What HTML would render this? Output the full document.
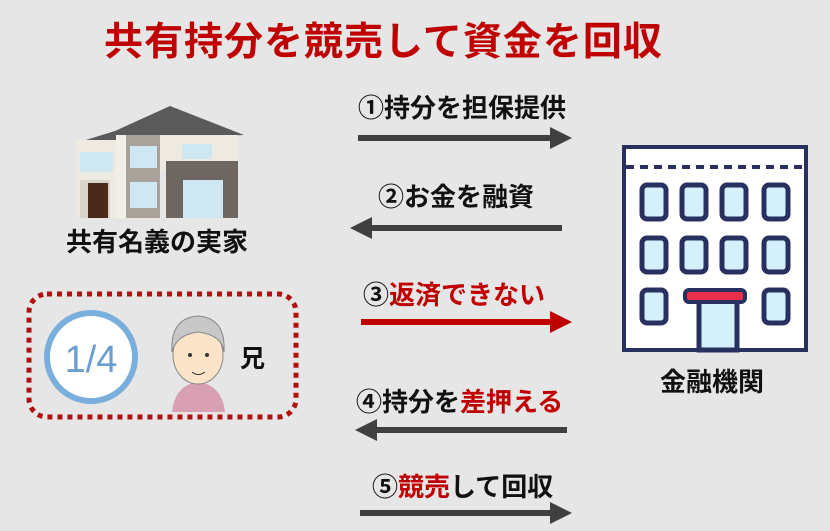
<!DOCTYPE html><html><head><meta charset="utf-8"><style>
body{margin:0;width:830px;height:531px;background:#e6e6e6;overflow:hidden;position:relative;font-family:"Liberation Sans","Noto Sans CJK JP",sans-serif;}
.t{position:absolute;font-weight:bold;white-space:nowrap;color:#111;line-height:1}
.r{color:#c00000}
</style></head><body>
<div class="t r" style="left:104px;top:23px;font-size:39px;letter-spacing:1px">共有持分を競売して資金を回収</div>
<div class="t" style="left:358px;top:95px;font-size:26px">①持分を担保提供</div>
<div class="t" style="left:378px;top:184px;font-size:26px">②お金を融資</div>
<div class="t" style="left:363px;top:282px;font-size:26px">③<span class="r">返済できない</span></div>
<div class="t" style="left:356px;top:389px;font-size:26px">④持分を<span class="r">差押える</span></div>
<div class="t" style="left:372px;top:474px;font-size:26px">⑤<span class="r">競売</span>して回収</div>
<div class="t" style="left:66px;top:229px;font-size:26px">共有名義の実家</div>
<div class="t" style="left:660px;top:369px;font-size:26px">金融機関</div>
<div class="t" style="left:240px;top:347px;font-size:25px">兄</div>
<svg width="830" height="531" style="position:absolute;left:0;top:0">
<g fill="#404040">
<rect x="358" y="135" width="195" height="6"/><path d="M550,127L572,138L550,149z"/>
<rect x="370" y="225" width="192" height="6"/><path d="M372,217L350,228L372,239z"/>
<rect x="375" y="427" width="192" height="6"/><path d="M377,419L355,430L377,441z"/>
<rect x="360" y="510" width="192" height="6"/><path d="M550,502L572,513L550,524z"/>
</g>
<g fill="#c00000"><rect x="361" y="319" width="192" height="6"/><path d="M550,311L572,322L550,333z"/></g>
<path d="M76,143L115,131L170,106L244,135L76,143z" fill="#5a5a5a"/>
<rect x="76" y="140" width="42" height="78" fill="#eeeae2"/>
<rect x="80" y="152" width="33" height="20" fill="#cfe6f3"/>
<rect x="80" y="180" width="30" height="38" fill="#d8d4cc"/>
<rect x="88" y="183" width="20" height="35" fill="#4a2a1a"/>
<rect x="116" y="135" width="10" height="83" fill="#f2efe8"/>
<rect x="126" y="135" width="34" height="83" fill="#a8a29a"/>
<rect x="130" y="146" width="27" height="22" fill="#cfe6f3"/>
<rect x="130" y="182" width="27" height="26" fill="#cfe6f3"/>
<rect x="160" y="135" width="78" height="36" fill="#eeeae2"/>
<rect x="182" y="144" width="30" height="15" fill="#cfe6f3"/>
<rect x="166" y="161" width="72" height="57" fill="#6e6660"/>
<rect x="183" y="180" width="40" height="38" fill="#cfe6f3"/>
<rect x="29" y="294" width="267" height="123" rx="18" fill="none" stroke="#b01010" stroke-width="5" stroke-dasharray="5,5"/>
<circle cx="91" cy="357" r="44" fill="#fff" stroke="#7aaedc" stroke-width="6"/>
<text x="91" y="372" text-anchor="middle" font-family="Liberation Sans,sans-serif" font-size="38" fill="#6a9ed0">1/4</text>
<path d="M172,412Q175,385 198,382Q222,385 225,412z" fill="#d9a0b4"/>
<ellipse cx="198" cy="355" rx="25" ry="29" fill="#fbe4c8" stroke="#888" stroke-width="1"/>
<path d="M172,352Q170,318 198,316Q226,318 224,352Q222,335 198,332Q176,335 172,352z" fill="#c8c8c8" stroke="#888"/>
<circle cx="190" cy="355" r="2" fill="#333"/><circle cx="207" cy="355" r="2" fill="#333"/>
<path d="M192,372Q198,377 205,372" stroke="#333" fill="none"/>
<rect x="624" y="147" width="182" height="203" fill="#fff" stroke="#283060" stroke-width="4"/>
<line x1="626" y1="167" x2="804" y2="167" stroke="#283060" stroke-width="4" stroke-dasharray="8,6"/>
<g fill="#d4f0fa" stroke="#283060" stroke-width="5">
<rect x="642" y="185" width="24" height="34" rx="5"/><rect x="682" y="185" width="24" height="34" rx="5"/><rect x="722" y="185" width="24" height="34" rx="5"/><rect x="764" y="185" width="24" height="34" rx="5"/>
<rect x="642" y="238" width="24" height="34" rx="5"/><rect x="682" y="238" width="24" height="34" rx="5"/><rect x="722" y="238" width="24" height="34" rx="5"/><rect x="764" y="238" width="24" height="34" rx="5"/>
<rect x="642" y="290" width="24" height="33" rx="5"/><rect x="764" y="290" width="24" height="33" rx="5"/>
<rect x="699" y="300" width="38" height="50"/>
</g>
<rect x="685" y="290" width="60" height="12" rx="4" fill="#e8304a" stroke="#283060" stroke-width="4"/>
</svg>
</body></html>
